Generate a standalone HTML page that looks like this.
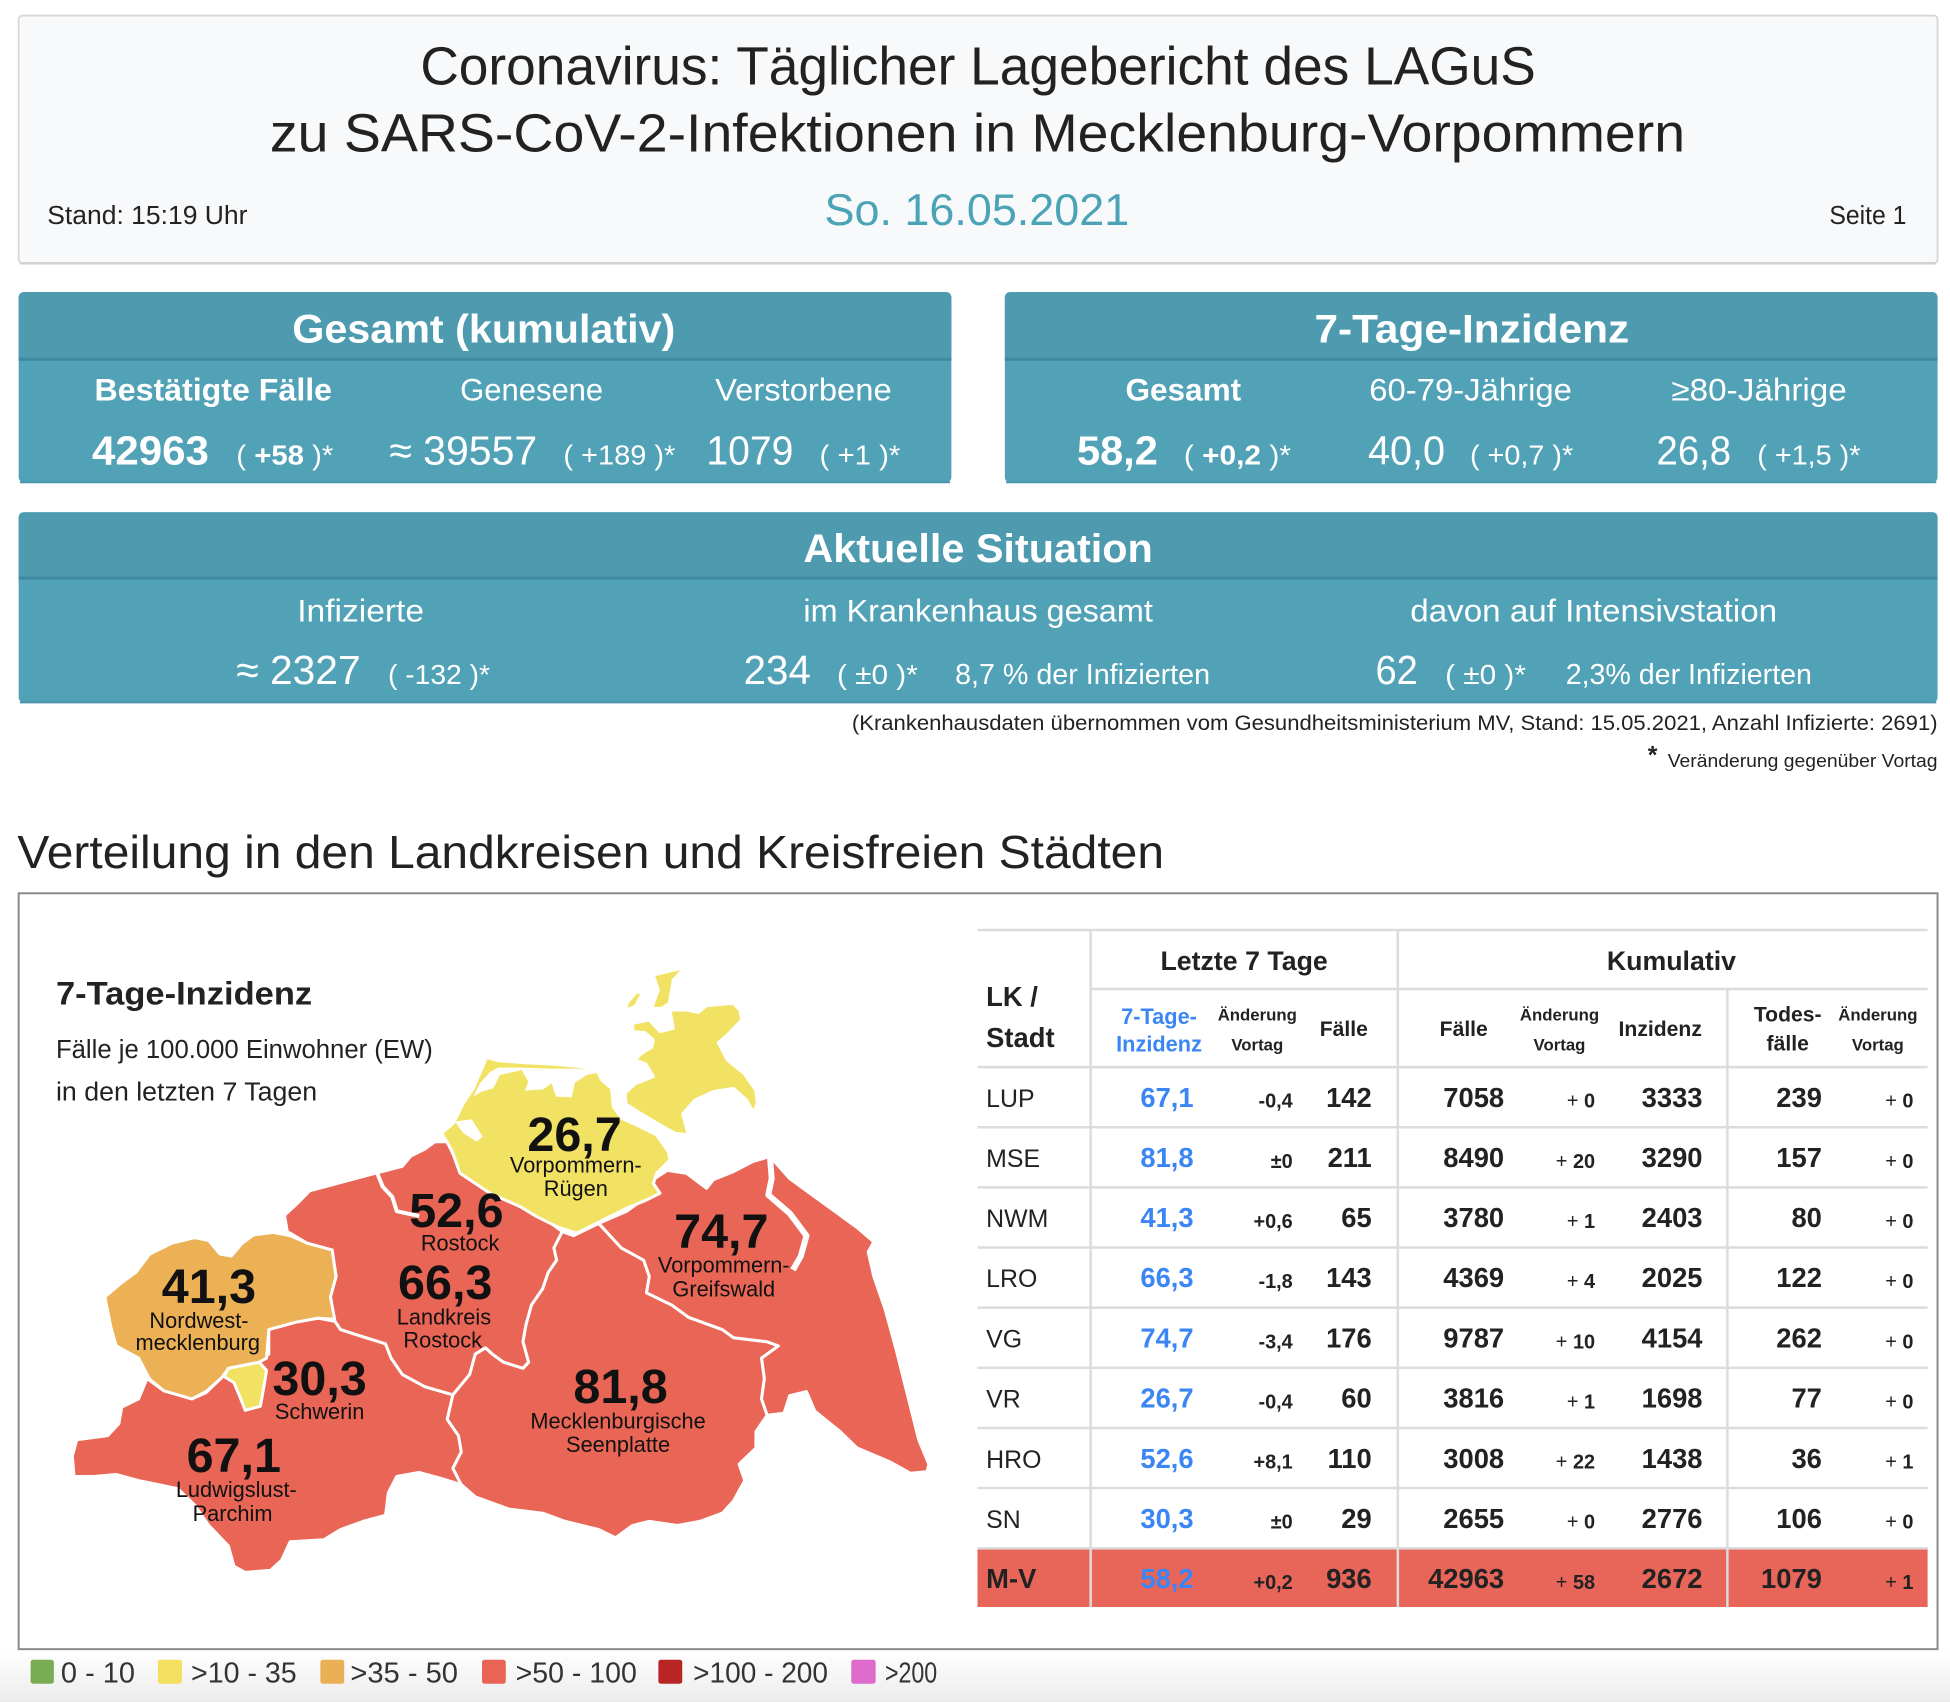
<!DOCTYPE html>
<html><head><meta charset="utf-8"><style>html,body{margin:0;padding:0;background:#fff}svg{display:block}</style></head>
<body>
<svg xmlns="http://www.w3.org/2000/svg" width="1950" height="1702" viewBox="0 0 1568 1369" preserveAspectRatio="none" font-family="'Liberation Sans', Arial, sans-serif">
<defs>
<linearGradient id="bg" x1="0" y1="0" x2="0" y2="1"><stop offset="0" stop-color="#ffffff"/><stop offset="1" stop-color="#ececec"/></linearGradient>
</defs>
<rect x="0" y="0" width="1568" height="1369" fill="#fff"/>
<rect x="0" y="1328" width="1568" height="41" fill="url(#bg)"/>

<!-- Header box -->
<rect x="15" y="12.5" width="1543" height="199" rx="3" fill="#f8f9fa" stroke="#d8d8d8" stroke-width="1.5"/>
<line x1="16" y1="212" x2="1557" y2="212" stroke="#cfcfcf" stroke-width="1.5"/>
<text x="338" y="68" font-size="43" fill="#222" textLength="897" lengthAdjust="spacingAndGlyphs">Coronavirus: Täglicher Lagebericht des LAGuS</text>
<text x="217" y="122" font-size="43" fill="#222" textLength="1138" lengthAdjust="spacingAndGlyphs">zu SARS-CoV-2-Infektionen in Mecklenburg-Vorpommern</text>
<text x="663" y="181" font-size="36" fill="#4ba3b6" textLength="245" lengthAdjust="spacingAndGlyphs">So. 16.05.2021</text>
<text x="38" y="180" font-size="21" fill="#222" textLength="161" lengthAdjust="spacingAndGlyphs">Stand: 15:19 Uhr</text>
<text x="1471" y="180" font-size="21" fill="#222" textLength="62" lengthAdjust="spacingAndGlyphs">Seite 1</text>

<!-- Box 1 -->
<rect x="15" y="235" width="750" height="153" rx="4" fill="#52a2b7"/>
<path d="M15 288 V239 a4 4 0 0 1 4 -4 H761 a4 4 0 0 1 4 4 V288 Z" fill="#4e9bb0"/>
<line x1="15" y1="289" x2="765" y2="289" stroke="#3f8aa0" stroke-width="2.5"/>
<line x1="16" y1="388" x2="764" y2="388" stroke="#4793a7" stroke-width="1.5"/>
<g fill="#fff">
<text x="235" y="275.5" font-size="32" font-weight="bold" textLength="308" lengthAdjust="spacingAndGlyphs">Gesamt (kumulativ)</text>
<text x="76" y="322" font-size="25" font-weight="bold" textLength="191" lengthAdjust="spacingAndGlyphs">Bestätigte Fälle</text>
<text x="370" y="322" font-size="25" textLength="115" lengthAdjust="spacingAndGlyphs">Genesene</text>
<text x="575" y="322" font-size="25" textLength="142" lengthAdjust="spacingAndGlyphs">Verstorbene</text>
<text x="74" y="373.5" font-size="33" font-weight="bold" textLength="94" lengthAdjust="spacingAndGlyphs">42963</text>
<text x="190" y="373.5" font-size="22" textLength="78" lengthAdjust="spacingAndGlyphs">( <tspan font-weight="bold">+58</tspan> )*</text>
<text x="313" y="373.5" font-size="33" textLength="119" lengthAdjust="spacingAndGlyphs">≈ 39557</text>
<text x="453" y="373.5" font-size="22" textLength="90" lengthAdjust="spacingAndGlyphs">( +189 )*</text>
<text x="568" y="373.5" font-size="33" textLength="70" lengthAdjust="spacingAndGlyphs">1079</text>
<text x="659" y="373.5" font-size="22" textLength="65" lengthAdjust="spacingAndGlyphs">( +1 )*</text>
</g>

<!-- Box 2 -->
<rect x="808" y="235" width="750" height="153" rx="4" fill="#52a2b7"/>
<path d="M808 288 V239 a4 4 0 0 1 4 -4 H1554 a4 4 0 0 1 4 4 V288 Z" fill="#4e9bb0"/>
<line x1="808" y1="289" x2="1558" y2="289" stroke="#3f8aa0" stroke-width="2.5"/>
<line x1="809" y1="388" x2="1557" y2="388" stroke="#4793a7" stroke-width="1.5"/>
<g fill="#fff">
<text x="1057" y="275.5" font-size="32" font-weight="bold" textLength="253" lengthAdjust="spacingAndGlyphs">7-Tage-Inzidenz</text>
<text x="905" y="322" font-size="25" font-weight="bold" textLength="93" lengthAdjust="spacingAndGlyphs">Gesamt</text>
<text x="1101" y="322" font-size="25" textLength="163" lengthAdjust="spacingAndGlyphs">60-79-Jährige</text>
<text x="1344" y="322" font-size="25" textLength="141" lengthAdjust="spacingAndGlyphs">≥80-Jährige</text>
<text x="866" y="373.5" font-size="33" font-weight="bold" textLength="65" lengthAdjust="spacingAndGlyphs">58,2</text>
<text x="952" y="373.5" font-size="22" textLength="86" lengthAdjust="spacingAndGlyphs">( <tspan font-weight="bold">+0,2</tspan> )*</text>
<text x="1100" y="373.5" font-size="33" textLength="62" lengthAdjust="spacingAndGlyphs">40,0</text>
<text x="1182" y="373.5" font-size="22" textLength="83" lengthAdjust="spacingAndGlyphs">( +0,7 )*</text>
<text x="1332" y="373.5" font-size="33" textLength="60" lengthAdjust="spacingAndGlyphs">26,8</text>
<text x="1413" y="373.5" font-size="22" textLength="83" lengthAdjust="spacingAndGlyphs">( +1,5 )*</text>
</g>

<!-- Box 3 -->
<rect x="15" y="412" width="1543" height="153" rx="4" fill="#52a2b7"/>
<path d="M15 464 V416 a4 4 0 0 1 4 -4 H1554 a4 4 0 0 1 4 4 V464 Z" fill="#4e9bb0"/>
<line x1="15" y1="465" x2="1558" y2="465" stroke="#3f8aa0" stroke-width="2.5"/>
<line x1="16" y1="565" x2="1557" y2="565" stroke="#4793a7" stroke-width="1.5"/>
<g fill="#fff">
<text x="646" y="452" font-size="32" font-weight="bold" textLength="281" lengthAdjust="spacingAndGlyphs">Aktuelle Situation</text>
<text x="239" y="500" font-size="25" textLength="102" lengthAdjust="spacingAndGlyphs">Infizierte</text>
<text x="646" y="500" font-size="25" textLength="281" lengthAdjust="spacingAndGlyphs">im Krankenhaus gesamt</text>
<text x="1134" y="500" font-size="25" textLength="295" lengthAdjust="spacingAndGlyphs">davon auf Intensivstation</text>
<text x="190" y="550" font-size="33" textLength="100" lengthAdjust="spacingAndGlyphs">≈ 2327</text>
<text x="312" y="550" font-size="22" textLength="82" lengthAdjust="spacingAndGlyphs">( -132 )*</text>
<text x="598" y="550" font-size="33" textLength="54" lengthAdjust="spacingAndGlyphs">234</text>
<text x="673" y="550" font-size="22" textLength="65" lengthAdjust="spacingAndGlyphs">( ±0 )*</text>
<text x="768" y="550" font-size="23" textLength="205" lengthAdjust="spacingAndGlyphs">8,7 % der Infizierten</text>
<text x="1106" y="550" font-size="33" textLength="34" lengthAdjust="spacingAndGlyphs">62</text>
<text x="1162" y="550" font-size="22" textLength="65" lengthAdjust="spacingAndGlyphs">( ±0 )*</text>
<text x="1259" y="550" font-size="23" textLength="198" lengthAdjust="spacingAndGlyphs">2,3% der Infizierten</text>
</g>

<!-- notes -->
<text x="685" y="587" font-size="17" fill="#222" textLength="873" lengthAdjust="spacingAndGlyphs">(Krankenhausdaten übernommen vom Gesundheitsministerium MV, Stand: 15.05.2021, Anzahl Infizierte: 2691)</text>
<text x="1325" y="614" font-size="20" font-weight="bold" fill="#222">*</text>
<text x="1341" y="617" font-size="15" fill="#222" textLength="217" lengthAdjust="spacingAndGlyphs">Veränderung gegenüber Vortag</text>

<!-- section title -->
<text x="14" y="698" font-size="37" fill="#222" textLength="922" lengthAdjust="spacingAndGlyphs">Verteilung in den Landkreisen und Kreisfreien Städten</text>

<!-- frame -->
<rect x="15" y="718.5" width="1543" height="608" fill="#fff" stroke="#8a8a8a" stroke-width="1.6"/>

<!-- map text -->
<text x="45" y="808" font-size="26" font-weight="bold" fill="#222" textLength="206" lengthAdjust="spacingAndGlyphs">7-Tage-Inzidenz</text>
<text x="45" y="851" font-size="21" fill="#222" textLength="303" lengthAdjust="spacingAndGlyphs">Fälle je 100.000 Einwohner (EW)</text>
<text x="45" y="885" font-size="21" fill="#222" textLength="210" lengthAdjust="spacingAndGlyphs">in den letzten 7 Tagen</text>

<!-- map -->
<g transform="translate(48.25 764.1) scale(0.4513 0.3283)" stroke="#fff" stroke-width="3" stroke-linejoin="round">
<polygon vector-effect="non-scaling-stroke" fill="#e96555" points="155,1050 185,1080 235,1100 260,1085 290,1045 300,1025 355,1010 372,990 372,930 420,912 460,902 490,910 500,930 545,950 580,965 590,1000 610,1040 650,1070 700,1090 690,1150 710,1190 715,1230 700,1270 715,1310 680,1295 640,1280 600,1290 585,1330 580,1385 540,1400 500,1420 470,1445 410,1450 395,1495 375,1520 330,1525 310,1510 300,1460 265,1410 240,1360 210,1320 175,1310 140,1300 100,1285 60,1290 25,1290 22,1240 30,1200 85,1190 105,1160 110,1120 140,1100"/>
<polygon vector-effect="non-scaling-stroke" fill="#ecb055" points="80,850 110,815 135,790 160,745 200,718 240,705 265,712 285,745 305,750 325,718 345,698 380,692 410,700 440,718 485,735 492,800 482,850 490,905 460,902 420,912 372,930 368,1000 355,1010 300,1025 288,1048 260,1082 235,1100 185,1080 160,1052 140,1000 100,970 90,920"/>
<polygon vector-effect="non-scaling-stroke" fill="#f2e264" points="300,1025 355,1010 368,1030 362,1080 357,1118 330,1128 322,1100 310,1060 292,1045"/>
<polygon vector-effect="non-scaling-stroke" fill="#e96555" points="405,690 400,650 420,625 445,590 500,570 565,546 610,530 625,505 650,488 668,470 690,470 700,500 712,515 740,545 790,580 820,620 860,655 895,690 880,730 885,760 870,790 860,830 840,870 830,920 825,960 835,1010 825,1025 790,1010 770,990 758,975 740,990 730,1040 700,1090 650,1070 610,1040 590,1000 580,965 545,950 500,930 490,910 482,850 492,800 485,735 440,718"/>
<polygon vector-effect="non-scaling-stroke" fill="#e96555" points="895,690 915,700 960,670 1000,730 1040,760 1050,800 1045,840 1090,870 1120,900 1180,930 1200,950 1260,960 1280,970 1250,1000 1255,1050 1250,1100 1260,1140 1240,1180 1240,1220 1210,1260 1220,1300 1200,1350 1180,1380 1140,1400 1100,1410 1050,1400 1020,1410 990,1440 960,1420 900,1400 860,1380 800,1370 740,1340 715,1310 700,1270 715,1230 710,1190 690,1150 700,1090 730,1040 740,990 758,975 770,990 790,1010 825,1025 835,1010 825,960 830,920 840,870 860,830 870,790 885,760 880,730"/>
<polygon vector-effect="non-scaling-stroke" fill="#e96555" points="960,670 1010,640 1050,600 1060,560 1082,540 1116,547 1152,584 1164,563 1200,543 1235,518 1265,506 1300,560 1340,600 1380,640 1420,680 1450,715 1440,740 1450,800 1470,880 1490,980 1510,1090 1530,1200 1548,1260 1545,1278 1515,1282 1480,1255 1420,1220 1390,1180 1345,1130 1330,1082 1300,1092 1290,1135 1260,1140 1250,1100 1255,1050 1250,1000 1280,970 1260,960 1200,950 1180,930 1120,900 1090,870 1045,840 1050,800 1040,760 1000,730"/>
<g fill="none" stroke-width="4">
<polyline vector-effect="non-scaling-stroke" points="565,546 575,580 592,605 600,640 640,652"/>
<polyline vector-effect="non-scaling-stroke" stroke-width="6" points="1265,506 1268,560 1262,600 1300,645 1330,700 1320,750 1306,784"/>
</g>
</g>

<!-- VR + Rügen (finer trace) -->
<g transform="translate(353.8 772.2) scale(0.268)" stroke="#fff" stroke-width="3" stroke-linejoin="round">
<polygon vector-effect="non-scaling-stroke" fill="#f2e264" points="5,520 40,490 70,430 100,385 140,292 175,302 250,308 330,312 405,318 470,328 485,360 515,385 520,440 545,475 600,500 650,525 685,575 690,600 650,640 640,670 660,700 620,720 560,745 470,790 410,820 350,800 290,770 240,740 150,700 60,640 35,570"/>
<polygon vector-effect="non-scaling-stroke" fill="#fff" stroke="none" points="100,410 125,395 160,385 180,345 245,330 265,365 255,392 310,388 335,370 348,410 395,412 405,368 440,345 475,338 472,330 405,326 330,326 250,323 175,323 150,336 120,370"/>
<polygon vector-effect="non-scaling-stroke" fill="#fff" stroke="none" points="45,485 95,478 128,530 110,545 70,520"/>
<polygon vector-effect="non-scaling-stroke" fill="#f2e264" points="578,190 628,180 660,215 700,205 690,150 740,150 775,157 800,137 880,130 900,150 905,180 862,225 835,248 862,300 912,340 948,392 952,430 940,458 920,420 880,385 820,395 765,420 728,462 745,525 705,520 655,492 605,462 558,432 555,400 585,372 640,350 618,312 585,300 605,280 635,262 640,240 615,218 578,215"/>
<polygon vector-effect="non-scaling-stroke" fill="#f2e264" points="640,45 735,22 700,60 688,130 665,145 635,145 655,90"/>
<polygon vector-effect="non-scaling-stroke" fill="#f2e264" points="590,95 608,100 585,140 555,150 562,128"/>
</g>

<!-- map labels -->
<g fill="#111" text-anchor="middle">
<g font-size="39" font-weight="bold">
<text x="462" y="926">26,7</text>
<text x="367" y="987">52,6</text>
<text x="358" y="1045">66,3</text>
<text x="580" y="1004">74,7</text>
<text x="168" y="1048">41,3</text>
<text x="257" y="1122">30,3</text>
<text x="188" y="1184">67,1</text>
<text x="499" y="1128.5">81,8</text>
</g>
<g font-size="17.5">
<text x="463" y="943">Vorpommern-</text>
<text x="463" y="962">Rügen</text>
<text x="370" y="1006">Rostock</text>
<text x="357" y="1065.5">Landkreis</text>
<text x="356" y="1084">Rostock</text>
<text x="582" y="1023.5">Vorpommern-</text>
<text x="582" y="1043">Greifswald</text>
<text x="160" y="1068">Nordwest-</text>
<text x="159" y="1086">mecklenburg</text>
<text x="257" y="1141.5">Schwerin</text>
<text x="190" y="1204">Ludwigslust-</text>
<text x="187" y="1223.5">Parchim</text>
<text x="497" y="1149">Mecklenburgische</text>
<text x="497" y="1168">Seenplatte</text>
</g>
</g>

<!-- Table -->
<rect x="786" y="1245.3" width="764" height="47.3" fill="#e8655a"/>
<g stroke="#dcdcdc" stroke-width="2">
<line x1="786" y1="748" x2="1550" y2="748"/>
<line x1="877" y1="795.5" x2="1550" y2="795.5"/>
<line x1="786" y1="858.3" x2="1550" y2="858.3"/>
<line x1="786" y1="906.7" x2="1550" y2="906.7"/>
<line x1="786" y1="955.1" x2="1550" y2="955.1"/>
<line x1="786" y1="1003.4" x2="1550" y2="1003.4"/>
<line x1="786" y1="1051.8" x2="1550" y2="1051.8"/>
<line x1="786" y1="1100.2" x2="1550" y2="1100.2"/>
<line x1="786" y1="1148.6" x2="1550" y2="1148.6"/>
<line x1="786" y1="1196.9" x2="1550" y2="1196.9"/>
<line x1="786" y1="1245.3" x2="1550" y2="1245.3"/>
<line x1="877" y1="748" x2="877" y2="1292.6"/>
<line x1="1124" y1="748" x2="1124" y2="1292.6"/>
<line x1="1389" y1="795.5" x2="1389" y2="1292.6"/>
</g>
<g fill="#222" font-weight="bold">
<text x="1000.4" y="780.3" font-size="21.5" text-anchor="middle">Letzte 7 Tage</text>
<text x="1344" y="780.3" font-size="21.5" text-anchor="middle">Kumulativ</text>
<text x="793" y="809" font-size="22">LK /</text>
<text x="793" y="842" font-size="22">Stadt</text>
<text x="932" y="823.7" font-size="17.5" text-anchor="middle" fill="#3b86f4">7-Tage-</text>
<text x="932" y="845.7" font-size="17.5" text-anchor="middle" fill="#3b86f4">Inzidenz</text>
<text x="1011" y="820.8" font-size="13.5" text-anchor="middle">Änderung</text>
<text x="1011" y="844.8" font-size="13.5" text-anchor="middle">Vortag</text>
<text x="1080.6" y="833.4" font-size="17" text-anchor="middle">Fälle</text>
<text x="1177" y="833.4" font-size="17" text-anchor="middle">Fälle</text>
<text x="1254" y="820.8" font-size="13.5" text-anchor="middle">Änderung</text>
<text x="1254" y="844.8" font-size="13.5" text-anchor="middle">Vortag</text>
<text x="1335" y="833.4" font-size="17" text-anchor="middle">Inzidenz</text>
<text x="1437.5" y="821.6" font-size="17" text-anchor="middle">Todes-</text>
<text x="1437.5" y="844.8" font-size="17" text-anchor="middle">fälle</text>
<text x="1510" y="820.8" font-size="13.5" text-anchor="middle">Änderung</text>
<text x="1510" y="844.8" font-size="13.5" text-anchor="middle">Vortag</text>
</g>

<g fill="#222">
<g font-size="20">
<text x="793" y="890.3">LUP</text>
<text x="793" y="938.7">MSE</text>
<text x="793" y="987.1">NWM</text>
<text x="793" y="1035.4">LRO</text>
<text x="793" y="1083.8">VG</text>
<text x="793" y="1132.2">VR</text>
<text x="793" y="1180.6">HRO</text>
<text x="793" y="1228.9">SN</text>
</g>
<text x="793" y="1277.3" font-size="22" font-weight="bold">M-V</text>

<g font-size="22" font-weight="bold" text-anchor="end" fill="#3b86f4">
<text x="959.8" y="890.3">67,1</text>
<text x="959.8" y="938.7">81,8</text>
<text x="959.8" y="987.1">41,3</text>
<text x="959.8" y="1035.4">66,3</text>
<text x="959.8" y="1083.8">74,7</text>
<text x="959.8" y="1132.2">26,7</text>
<text x="959.8" y="1180.6">52,6</text>
<text x="959.8" y="1228.9">30,3</text>
<text x="959.8" y="1277.3">58,2</text>
</g>

<g font-size="16" font-weight="bold" text-anchor="end">
<text x="1039.5" y="891">-0,4</text>
<text x="1039.5" y="939.4">±0</text>
<text x="1039.5" y="987.8">+0,6</text>
<text x="1039.5" y="1036.1">-1,8</text>
<text x="1039.5" y="1084.5">-3,4</text>
<text x="1039.5" y="1132.9">-0,4</text>
<text x="1039.5" y="1181.3">+8,1</text>
<text x="1039.5" y="1229.6">±0</text>
<text x="1039.5" y="1278">+0,2</text>

<text x="1282.6" y="891"><tspan font-weight="normal">+ </tspan>0</text>
<text x="1282.6" y="939.4"><tspan font-weight="normal">+ </tspan>20</text>
<text x="1282.6" y="987.8"><tspan font-weight="normal">+ </tspan>1</text>
<text x="1282.6" y="1036.1"><tspan font-weight="normal">+ </tspan>4</text>
<text x="1282.6" y="1084.5"><tspan font-weight="normal">+ </tspan>10</text>
<text x="1282.6" y="1132.9"><tspan font-weight="normal">+ </tspan>1</text>
<text x="1282.6" y="1181.3"><tspan font-weight="normal">+ </tspan>22</text>
<text x="1282.6" y="1229.6"><tspan font-weight="normal">+ </tspan>0</text>
<text x="1282.6" y="1278"><tspan font-weight="normal">+ </tspan>58</text>

<text x="1538.6" y="891"><tspan font-weight="normal">+ </tspan>0</text>
<text x="1538.6" y="939.4"><tspan font-weight="normal">+ </tspan>0</text>
<text x="1538.6" y="987.8"><tspan font-weight="normal">+ </tspan>0</text>
<text x="1538.6" y="1036.1"><tspan font-weight="normal">+ </tspan>0</text>
<text x="1538.6" y="1084.5"><tspan font-weight="normal">+ </tspan>0</text>
<text x="1538.6" y="1132.9"><tspan font-weight="normal">+ </tspan>0</text>
<text x="1538.6" y="1181.3"><tspan font-weight="normal">+ </tspan>1</text>
<text x="1538.6" y="1229.6"><tspan font-weight="normal">+ </tspan>0</text>
<text x="1538.6" y="1278"><tspan font-weight="normal">+ </tspan>1</text>
</g>

<g font-size="22" font-weight="bold" text-anchor="end">
<text x="1103" y="890.3">142</text>
<text x="1103" y="938.7">211</text>
<text x="1103" y="987.1">65</text>
<text x="1103" y="1035.4">143</text>
<text x="1103" y="1083.8">176</text>
<text x="1103" y="1132.2">60</text>
<text x="1103" y="1180.6">110</text>
<text x="1103" y="1228.9">29</text>
<text x="1103" y="1277.3">936</text>

<text x="1209.5" y="890.3">7058</text>
<text x="1209.5" y="938.7">8490</text>
<text x="1209.5" y="987.1">3780</text>
<text x="1209.5" y="1035.4">4369</text>
<text x="1209.5" y="1083.8">9787</text>
<text x="1209.5" y="1132.2">3816</text>
<text x="1209.5" y="1180.6">3008</text>
<text x="1209.5" y="1228.9">2655</text>
<text x="1209.5" y="1277.3">42963</text>

<text x="1369" y="890.3">3333</text>
<text x="1369" y="938.7">3290</text>
<text x="1369" y="987.1">2403</text>
<text x="1369" y="1035.4">2025</text>
<text x="1369" y="1083.8">4154</text>
<text x="1369" y="1132.2">1698</text>
<text x="1369" y="1180.6">1438</text>
<text x="1369" y="1228.9">2776</text>
<text x="1369" y="1277.3">2672</text>

<text x="1465" y="890.3">239</text>
<text x="1465" y="938.7">157</text>
<text x="1465" y="987.1">80</text>
<text x="1465" y="1035.4">122</text>
<text x="1465" y="1083.8">262</text>
<text x="1465" y="1132.2">77</text>
<text x="1465" y="1180.6">36</text>
<text x="1465" y="1228.9">106</text>
<text x="1465" y="1277.3">1079</text>
</g>
</g>

<!-- legend -->
<g>
<rect x="24.6" y="1335" width="18.7" height="19.3" rx="2" fill="#7aab55"/>
<rect x="127" y="1335" width="19.3" height="19.3" rx="2" fill="#f2e05e"/>
<rect x="257.6" y="1335" width="19.2" height="19.3" rx="2" fill="#ebb055"/>
<rect x="387.6" y="1335" width="19.1" height="19.3" rx="2" fill="#e96455"/>
<rect x="529.4" y="1335" width="19.2" height="19.3" rx="2" fill="#b82524"/>
<rect x="684.5" y="1335" width="19.6" height="19.3" rx="2" fill="#dd6ccc"/>
</g>
<g font-size="23" fill="#333">
<text x="49" y="1353.5" textLength="59.5" lengthAdjust="spacingAndGlyphs">0 - 10</text>
<text x="153.6" y="1353.5" textLength="85" lengthAdjust="spacingAndGlyphs">&gt;10 - 35</text>
<text x="281.7" y="1353.5" textLength="86.6" lengthAdjust="spacingAndGlyphs">&gt;35 - 50</text>
<text x="414.6" y="1353.5" textLength="97.5" lengthAdjust="spacingAndGlyphs">&gt;50 - 100</text>
<text x="557.4" y="1353.5" textLength="108.4" lengthAdjust="spacingAndGlyphs">&gt;100 - 200</text>
<text x="711.6" y="1353.5" textLength="42" lengthAdjust="spacingAndGlyphs">&gt;200</text>
</g>
</svg>
</body></html>
